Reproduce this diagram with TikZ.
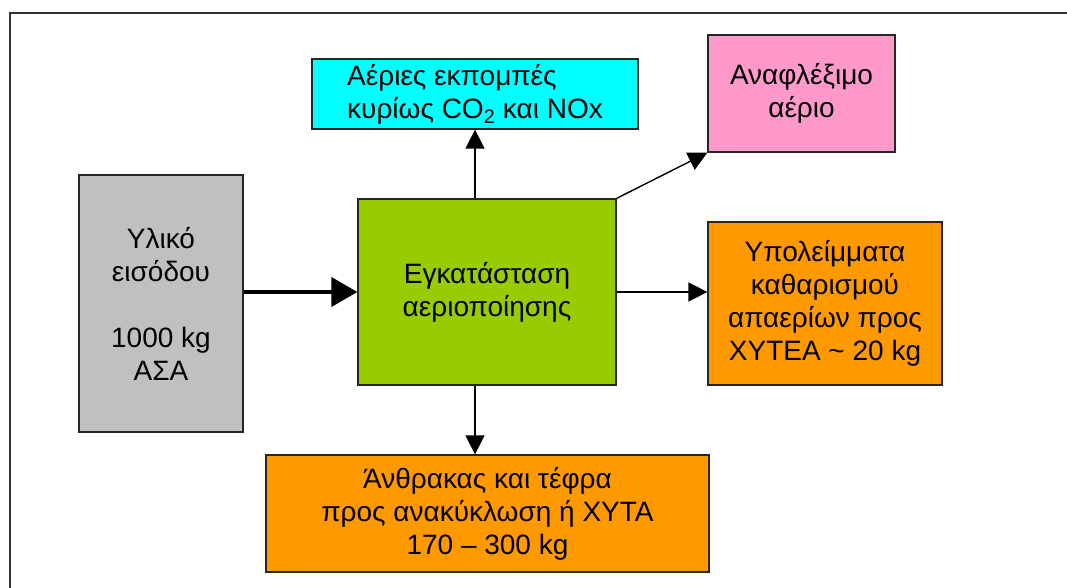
\documentclass[tikz,border=0pt]{standalone}
\usepackage{fontspec}
\setmainfont{Liberation Sans}
\usetikzlibrary{arrows.meta}
\begin{document}
\begin{tikzpicture}[x=1pt,y=-1pt,
  box/.style={draw=black!85,line width=1.3pt,inner sep=0pt,
    font=\fontsize{28}{33}\selectfont,align=center},
  conn/.style={line width=1.4pt,-{Triangle[length=19pt,width=19pt]}},
  bigconn/.style={line width=4pt,-{Triangle[length=26pt,width=29pt]}},
]
\useasboundingbox (0,0) rectangle (1067,588);
\fill[white] (0,0) rectangle (1067,588);
\draw[line width=2pt,black!80] (10,590) -- (10,13) -- (1067,13);

\node[box,fill={rgb,255:red,0;green,255;blue,255},minimum width=326pt,minimum height=70pt,align=left]
  (cyan) at (475,94) {Αέριες εκπομπές\\κυρίως CO\textsubscript{2} και NOx};
\node[box,fill={rgb,255:red,255;green,153;blue,204},minimum width=187pt,minimum height=117pt]
  (pink) at (801.5,93.5) {Αναφλέξιμο\\αέριο};
\node[box,fill={rgb,255:red,192;green,192;blue,192},minimum width=164pt,minimum height=257pt]
  (gray) at (161,303.5) {Υλικό\\εισόδου\\[33pt]1000 kg\\ΑΣΑ};
\node[box,fill={rgb,255:red,153;green,204;blue,0},minimum width=258pt,minimum height=186pt]
  (green) at (487,292) {Εγκατάσταση\\αεριοποίησης};
\node[box,fill={rgb,255:red,255;green,153;blue,0},minimum width=234pt,minimum height=163pt]
  (ored) at (825,303.5) {Υπολείμματα\\καθαρισμού\\απαερίων προς\\ΧΥΤΕΑ \textasciitilde{} 20 kg};
\node[box,fill={rgb,255:red,255;green,153;blue,0},minimum width=443pt,minimum height=117pt]
  (obot) at (487.5,513.5) {Άνθρακας και τέφρα\\προς ανακύκλωση ή ΧΥΤΑ\\170 – 300 kg};

\draw[bigconn] (gray.east |- green.west) -- (green.west);
\draw[conn] (cyan.south |- green.north) -- (cyan.south);
\draw[conn] (green.north east) -- (pink.south west);
\draw[conn] (green.east) -- (ored.west |- green.east);
\draw[conn] (cyan.south |- green.south) -- (cyan.south |- obot.north);
\end{tikzpicture}
\end{document}
